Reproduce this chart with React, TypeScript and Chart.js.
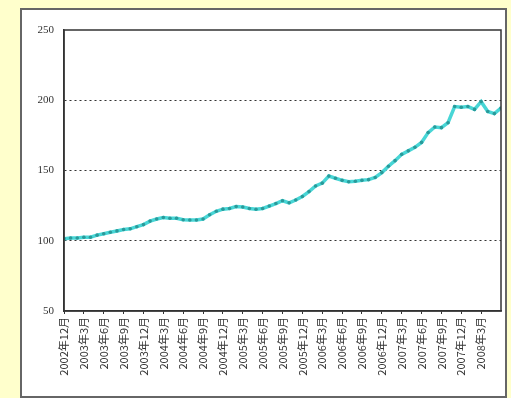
import React, { useEffect, useRef } from "react";
import { Chart, registerables } from "chart.js";

Chart.register(...registerables);

const tickLabels = [
  "2002年12月", "2003年3月", "2003年6月", "2003年9月", "2003年12月",
  "2004年3月", "2004年6月", "2004年9月", "2004年12月", "2005年3月",
  "2005年6月", "2005年9月", "2005年12月", "2006年3月", "2006年6月",
  "2006年9月", "2006年12月", "2007年3月", "2007年6月", "2007年9月",
  "2007年12月", "2008年3月",
];

// monthly index values, 2002/12 .. 2008/6
const seriesValues = [
  101.5, 102, 102, 102.5, 102.5, 104, 105, 106, 107, 108,
  108.5, 110, 111.5, 114, 115.5, 116.5, 116, 116, 115, 114.8,
  114.8, 115.5, 118.5, 121, 122.5, 123, 124.3, 124, 123, 122.4,
  123, 124.7, 126.5, 128.5, 127, 129, 131.5, 135, 139, 141,
  146, 144.5, 143, 142, 142.3, 143, 143.5, 145, 148.5, 153,
  157, 161.5, 164, 166.5, 170, 177, 181, 180.5, 184, 195.5,
  195, 195.5, 193.5, 199, 192, 190.5, 194.5,
];

const yMin = 50;
const yMax = 250;
const yStep = 50;

const borderPlugin = {
  id: "plotBorder",
  afterDraw(chart: any) {
    const { ctx, chartArea } = chart;
    ctx.save();
    ctx.strokeStyle = "#333";
    ctx.lineWidth = 1.5;
    ctx.setLineDash([]);
    ctx.strokeRect(chartArea.left, chartArea.top, chartArea.right - chartArea.left, chartArea.bottom - chartArea.top);
    ctx.restore();
  },
};

export default function App() {
  const ref = useRef<HTMLCanvasElement>(null);
  useEffect(() => {
    document.body.style.margin = "0";
    const data = seriesValues.map((v, i) => ({ x: i, y: v }));
    const chart = new Chart(ref.current as HTMLCanvasElement, {
      type: "line",
      data: {
        datasets: [
          {
            data,
            borderColor: "#48D6D6",
            borderWidth: 3.5,
            pointRadius: 1.8,
            pointBackgroundColor: "#2A9A9A",
            pointBorderWidth: 0,
            tension: 0,
          },
        ],
      },
      options: {
        animation: false,
        responsive: false,
        events: [],
        layout: { padding: { left: 20, top: 30, right: 10, bottom: 0 } },
        plugins: { legend: { display: false }, tooltip: { enabled: false } },
        scales: {
          x: {
            type: "linear",
            min: 0,
            max: seriesValues.length - 1,
            afterFit(scale: any) {
              scale.height = 87;
            },
            afterBuildTicks(scale: any) {
              scale.ticks = tickLabels.map((_, i) => ({ value: i * 3 }));
            },
            border: { display: true, color: "#333", width: 1.5 },
            grid: { display: true, drawOnChartArea: false, drawTicks: true, tickLength: 3, color: "#333" },
            ticks: {
              autoSkip: false,
              minRotation: 90,
              maxRotation: 90,
              padding: 3,
              color: "#333",
              font: { size: 11, family: "'Noto Sans CJK JP', 'DejaVu Sans', sans-serif" },
              callback: (v: any) => tickLabels[Math.round(Number(v) / 3)] ?? "",
            },
          },
          y: {
            min: yMin,
            max: yMax,
            afterFit(scale: any) {
              scale.width = 44;
            },
            border: { display: true, color: "#333", width: 1.5, dash: [2, 3] },
            grid: {
              drawTicks: false,
              color: (c: any) => (c.tick && (c.tick.value === yMin || c.tick.value === yMax) ? "rgba(0,0,0,0)" : "#333"),
              lineWidth: 1,
            },
            ticks: {
              stepSize: yStep,
              padding: 10,
              color: "#333",
              font: { size: 11, family: "'Liberation Serif', 'DejaVu Serif', serif" },
            },
          },
        },
      },
      plugins: [borderPlugin],
    } as any);
    return () => chart.destroy();
  }, []);

  return (
    <div style={{ position: "relative", width: 511, height: 398, background: "#FFFFCC", overflow: "hidden" }}>
      <div
        style={{
          position: "absolute",
          left: 20,
          top: 8,
          width: 483,
          height: 386,
          background: "#fff",
          border: "2px solid #666",
        }}
      />
      <canvas ref={ref} width={511} height={398} style={{ position: "absolute", left: 0, top: 0 }} />
    </div>
  );
}
